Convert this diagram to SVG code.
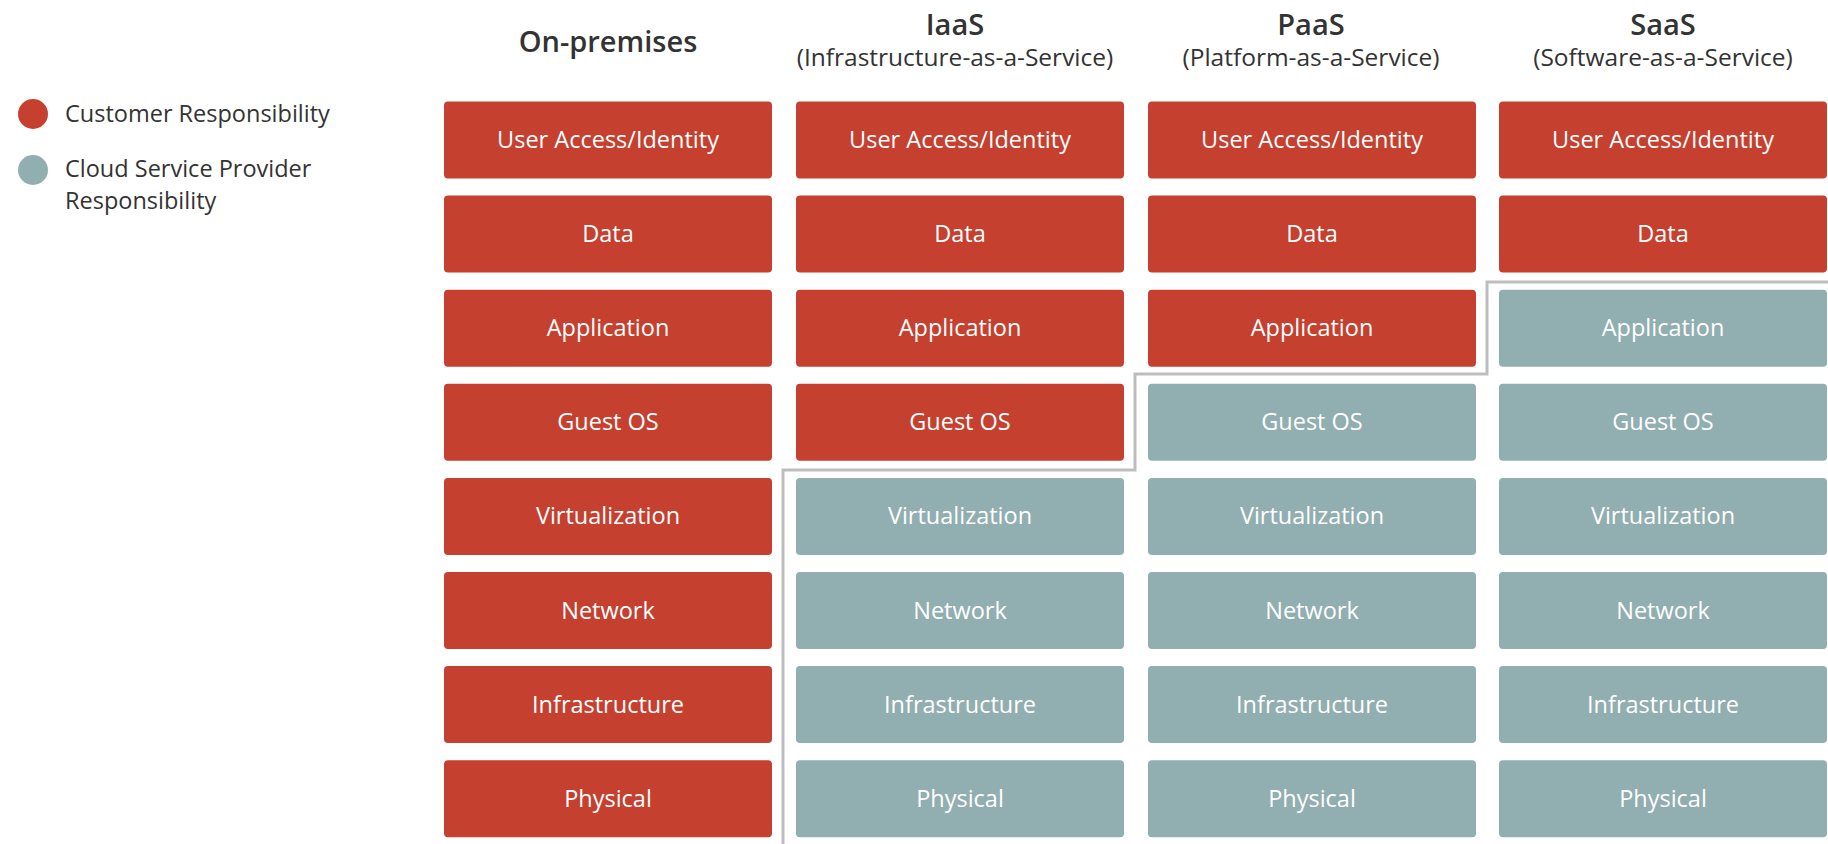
<svg xmlns="http://www.w3.org/2000/svg" width="1828" height="844" viewBox="0 0 1828 844">
<style>
.c{fill:#C5402F}
.p{fill:#91AEB0}
.lbl{font-family:"Open Sans","Noto Sans","Liberation Sans",sans-serif;font-size:23.5px;fill:#FFFFFF;text-anchor:middle}
.h{font-family:"Open Sans","Noto Sans","Liberation Sans",sans-serif;font-size:29px;font-weight:600;fill:#333333;text-anchor:middle}
.s{font-family:"Open Sans","Noto Sans","Liberation Sans",sans-serif;font-size:24.5px;fill:#333333;text-anchor:middle}
.lg{font-family:"Open Sans","Noto Sans","Liberation Sans",sans-serif;font-size:23.5px;fill:#333333}
</style>
<rect width="1828" height="844" fill="#FFFFFF"/>
<g id="legend">
<circle cx="33" cy="114" r="15" class="c"/>
<text class="lg" x="65" y="122">Customer Responsibility</text>
<circle cx="33" cy="170" r="15" class="p"/>
<text class="lg" x="65" y="177">Cloud Service Provider<tspan x="65" dy="32">Responsibility</tspan></text>
</g>
<g id="headers">
<text class="h" x="608" y="52">On-premises</text>
<text class="h" x="955" y="35">IaaS</text>
<text class="s" x="955" y="66">(Infrastructure-as-a-Service)</text>
<text class="h" x="1311" y="35">PaaS</text>
<text class="s" x="1311" y="66">(Platform-as-a-Service)</text>
<text class="h" x="1663" y="35">SaaS</text>
<text class="s" x="1663" y="66">(Software-as-a-Service)</text>
</g>
<g id="connectors">
<path d="M783,844 V470 H1135 V374 H1487 V282 H1828" fill="none" stroke="#BDBDBD" stroke-width="3"/>
</g>
<g id="col-onprem">
<g id="op-1"><rect x="444" y="101.5" width="328" height="77" rx="4" class="c"/><text class="lbl" x="608" y="148">User Access/Identity</text></g>
<g id="op-2"><rect x="444" y="195.6" width="328" height="77" rx="4" class="c"/><text class="lbl" x="608" y="242.1">Data</text></g>
<g id="op-3"><rect x="444" y="289.7" width="328" height="77" rx="4" class="c"/><text class="lbl" x="608" y="336.2">Application</text></g>
<g id="op-4"><rect x="444" y="383.8" width="328" height="77" rx="4" class="c"/><text class="lbl" x="608" y="430.3">Guest OS</text></g>
<g id="op-5"><rect x="444" y="477.9" width="328" height="77" rx="4" class="c"/><text class="lbl" x="608" y="524.4">Virtualization</text></g>
<g id="op-6"><rect x="444" y="572" width="328" height="77" rx="4" class="c"/><text class="lbl" x="608" y="618.5">Network</text></g>
<g id="op-7"><rect x="444" y="666.1" width="328" height="77" rx="4" class="c"/><text class="lbl" x="608" y="712.6">Infrastructure</text></g>
<g id="op-8"><rect x="444" y="760.2" width="328" height="77" rx="4" class="c"/><text class="lbl" x="608" y="806.7">Physical</text></g>
</g>
<g id="col-iaas">
<g id="ia-1"><rect x="796" y="101.5" width="328" height="77" rx="4" class="c"/><text class="lbl" x="960" y="148">User Access/Identity</text></g>
<g id="ia-2"><rect x="796" y="195.6" width="328" height="77" rx="4" class="c"/><text class="lbl" x="960" y="242.1">Data</text></g>
<g id="ia-3"><rect x="796" y="289.7" width="328" height="77" rx="4" class="c"/><text class="lbl" x="960" y="336.2">Application</text></g>
<g id="ia-4"><rect x="796" y="383.8" width="328" height="77" rx="4" class="c"/><text class="lbl" x="960" y="430.3">Guest OS</text></g>
<g id="ia-5"><rect x="796" y="477.9" width="328" height="77" rx="4" class="p"/><text class="lbl" x="960" y="524.4">Virtualization</text></g>
<g id="ia-6"><rect x="796" y="572" width="328" height="77" rx="4" class="p"/><text class="lbl" x="960" y="618.5">Network</text></g>
<g id="ia-7"><rect x="796" y="666.1" width="328" height="77" rx="4" class="p"/><text class="lbl" x="960" y="712.6">Infrastructure</text></g>
<g id="ia-8"><rect x="796" y="760.2" width="328" height="77" rx="4" class="p"/><text class="lbl" x="960" y="806.7">Physical</text></g>
</g>
<g id="col-paas">
<g id="pa-1"><rect x="1148" y="101.5" width="328" height="77" rx="4" class="c"/><text class="lbl" x="1312" y="148">User Access/Identity</text></g>
<g id="pa-2"><rect x="1148" y="195.6" width="328" height="77" rx="4" class="c"/><text class="lbl" x="1312" y="242.1">Data</text></g>
<g id="pa-3"><rect x="1148" y="289.7" width="328" height="77" rx="4" class="c"/><text class="lbl" x="1312" y="336.2">Application</text></g>
<g id="pa-4"><rect x="1148" y="383.8" width="328" height="77" rx="4" class="p"/><text class="lbl" x="1312" y="430.3">Guest OS</text></g>
<g id="pa-5"><rect x="1148" y="477.9" width="328" height="77" rx="4" class="p"/><text class="lbl" x="1312" y="524.4">Virtualization</text></g>
<g id="pa-6"><rect x="1148" y="572" width="328" height="77" rx="4" class="p"/><text class="lbl" x="1312" y="618.5">Network</text></g>
<g id="pa-7"><rect x="1148" y="666.1" width="328" height="77" rx="4" class="p"/><text class="lbl" x="1312" y="712.6">Infrastructure</text></g>
<g id="pa-8"><rect x="1148" y="760.2" width="328" height="77" rx="4" class="p"/><text class="lbl" x="1312" y="806.7">Physical</text></g>
</g>
<g id="col-saas">
<g id="sa-1"><rect x="1499" y="101.5" width="328" height="77" rx="4" class="c"/><text class="lbl" x="1663" y="148">User Access/Identity</text></g>
<g id="sa-2"><rect x="1499" y="195.6" width="328" height="77" rx="4" class="c"/><text class="lbl" x="1663" y="242.1">Data</text></g>
<g id="sa-3"><rect x="1499" y="289.7" width="328" height="77" rx="4" class="p"/><text class="lbl" x="1663" y="336.2">Application</text></g>
<g id="sa-4"><rect x="1499" y="383.8" width="328" height="77" rx="4" class="p"/><text class="lbl" x="1663" y="430.3">Guest OS</text></g>
<g id="sa-5"><rect x="1499" y="477.9" width="328" height="77" rx="4" class="p"/><text class="lbl" x="1663" y="524.4">Virtualization</text></g>
<g id="sa-6"><rect x="1499" y="572" width="328" height="77" rx="4" class="p"/><text class="lbl" x="1663" y="618.5">Network</text></g>
<g id="sa-7"><rect x="1499" y="666.1" width="328" height="77" rx="4" class="p"/><text class="lbl" x="1663" y="712.6">Infrastructure</text></g>
<g id="sa-8"><rect x="1499" y="760.2" width="328" height="77" rx="4" class="p"/><text class="lbl" x="1663" y="806.7">Physical</text></g>
</g>
</svg>
